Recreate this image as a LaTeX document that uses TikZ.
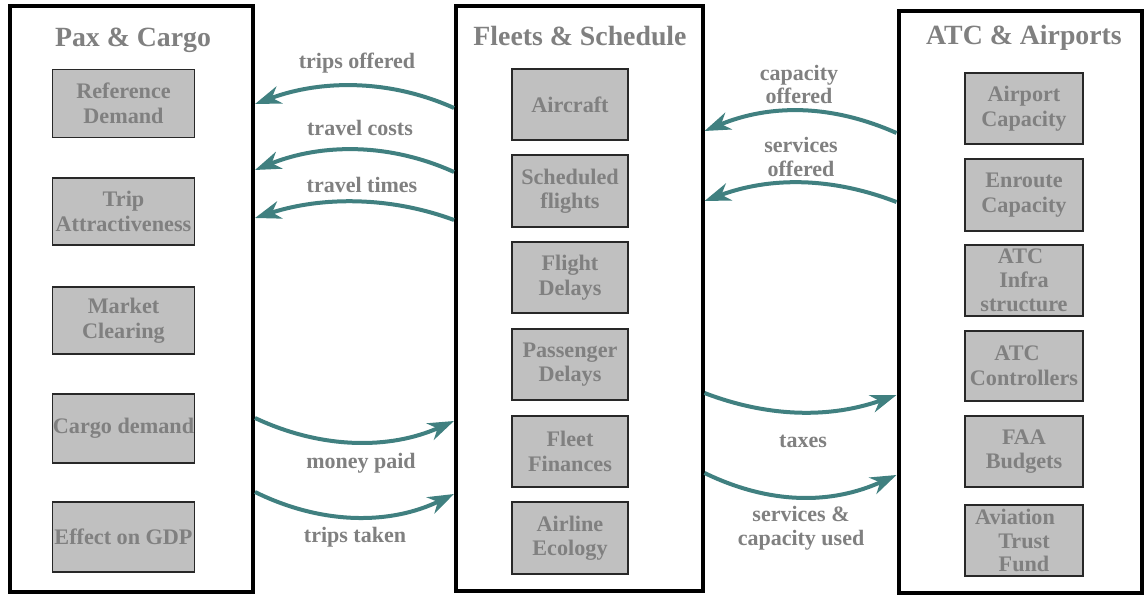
\documentclass[tikz,border=0pt]{standalone}
\usepackage{fontspec}
\setmainfont{Liberation Serif}
\usetikzlibrary{arrows.meta}
\definecolor{teal1}{RGB}{64,128,128}
\definecolor{txt}{RGB}{128,128,128}
\definecolor{boxfill}{RGB}{192,192,192}
\definecolor{boxline}{RGB}{40,40,40}
\begin{document}
\begin{tikzpicture}[x=1pt,y=-1pt,
  panel/.style={draw=black,line width=4pt,fill=white,inner sep=0pt},
  item/.style={draw=boxline,line width=1.5pt,fill=boxfill,text=txt,font=\fontsize{22.2}{24.5}\selectfont\bfseries,align=center,inner sep=0pt},
  ttl/.style={text=txt,font=\fontsize{27.8}{30}\selectfont\bfseries,inner sep=0pt},
  lbl/.style={text=txt,font=\fontsize{22}{23.5}\selectfont\bfseries,align=center,inner sep=0pt},
  flow/.style={draw=teal1,line width=4pt,-{Stealth[length=26pt,width=18pt,inset=8pt]}}
]
\fill[white] (0,0) rectangle (1144,596);
\useasboundingbox (0,0) rectangle (1144,596);

% panels
\node[panel,minimum width=243.5pt,minimum height=585.5pt] (left) at (131.25,298.75) {};
\node[panel,minimum width=246.5pt,minimum height=584.5pt] (mid) at (579.25,298.25) {};
\node[panel,minimum width=243pt,minimum height=581.5pt] (right) at (1020,301.75) {};

% titles
\node[ttl] (t1) at (133,40) {Pax \& Cargo};
\node[ttl] (t2) at (580,36) {Fleets \& Schedule};
\node[ttl] (t3) at (1024,38) {ATC \& Airports};

% left items
\node[item,minimum width=142pt,minimum height=68pt] (refd) at (123.5,103.5) {Reference\\Demand};
\node[item,minimum width=142pt,minimum height=67pt] (tripa) at (123.5,211.5) {Trip\\Attractiveness};
\node[item,minimum width=142pt,minimum height=67pt] (mkt) at (123.5,320.5) {Market\\Clearing};
\node[item,minimum width=142pt,minimum height=69pt] (cargo) at (123.5,428.5) {Cargo demand};
\node[item,minimum width=142pt,minimum height=70pt] (gdp) at (123.5,537) {Effect on GDP};

% middle items
\node[item,minimum width=116pt,minimum height=71pt] (acft) at (570,104.5) {Aircraft};
\node[item,minimum width=116pt,minimum height=72pt] (sched) at (570,191) {Scheduled\\flights};
\node[item,minimum width=116pt,minimum height=71pt] (fdel) at (570,277.5) {Flight\\Delays};
\node[item,minimum width=116pt,minimum height=71pt] (pdel) at (570,364.5) {Passenger\\Delays};
\node[item,minimum width=116pt,minimum height=71pt] (ffin) at (570,451.5) {Fleet\\Finances};
\node[item,minimum width=116pt,minimum height=72pt] (eco) at (570,538) {Airline\\Ecology};

% right items
\node[item,minimum width=118pt,minimum height=71pt] (apcap) at (1024,108.5) {Airport\\Capacity};
\node[item,minimum width=118pt,minimum height=72pt] (encap) at (1024,195) {Enroute\\Capacity};
\node[item,minimum width=118pt,minimum height=71pt,font=\fontsize{22.2}{24}\selectfont\bfseries] (infra) at (1024,280.5) {ATC\hspace*{7pt}\\Infra\hspace*{5pt}\\structure};
\node[item,minimum width=118pt,minimum height=70pt] (ctrl) at (1024,366) {ATC\hspace*{14pt}\\Controllers};
\node[item,minimum width=118pt,minimum height=71pt,font=\fontsize{22.2}{23.5}\selectfont\bfseries] (faa) at (1024,451.5) {FAA\\Budgets};
\node[item,minimum width=118pt,minimum height=71pt,font=\fontsize{22.2}{23.5}\selectfont\bfseries] (atf) at (1024,540.5) {Aviation\hspace*{18pt}\\Trust\hspace*{12pt}\\Fund};

% flows mid -> left
\draw[flow] (mid.west |- 0,108) .. controls (390,79.3) and (322,79.3) .. (left.east |- 0,104);
\draw[flow] (mid.west |- 0,172) .. controls (390,143) and (322,143) .. (left.east |- 0,170);
\draw[flow] (mid.west |- 0,220) .. controls (390,196.3) and (322,196.3) .. (left.east |- 0,218);
% flows right -> mid
\draw[flow] (right.west |- 0,133) .. controls (831,104) and (770,104) .. (mid.east |- 0,131);
\draw[flow] (right.west |- 0,202) .. controls (831,176.8) and (770,176.8) .. (mid.east |- 0,201);
% flows left -> mid
\draw[flow] (left.east |- 0,418) .. controls (322,449.5) and (390,449.5) .. (mid.west |- 0,421);
\draw[flow] (left.east |- 0,492) .. controls (322,525) and (390,525) .. (mid.west |- 0,494);
% flows mid -> right
\draw[flow] (mid.east |- 0,393) .. controls (770,418) and (831,418) .. (right.west |- 0,395);
\draw[flow] (mid.east |- 0,473) .. controls (770,504.7) and (831,504.7) .. (right.west |- 0,475);

% labels
\node[lbl] (l1) at (357,63) {trips offered};
\node[lbl] (l2) at (360,128) {travel costs};
\node[lbl] (l3) at (362,185) {travel times};
\node[lbl] (l4) at (799,84.5) {capacity\\offered};
\node[lbl] (l5) at (801,157) {services\\offered};
\node[lbl] (l6) at (361,463) {money paid};
\node[lbl] (l7) at (355,537) {trips taken};
\node[lbl] (l8) at (803,441) {taxes};
\node[lbl] (l9) at (801,528) {services \&\\capacity used};
\end{tikzpicture}
\end{document}
